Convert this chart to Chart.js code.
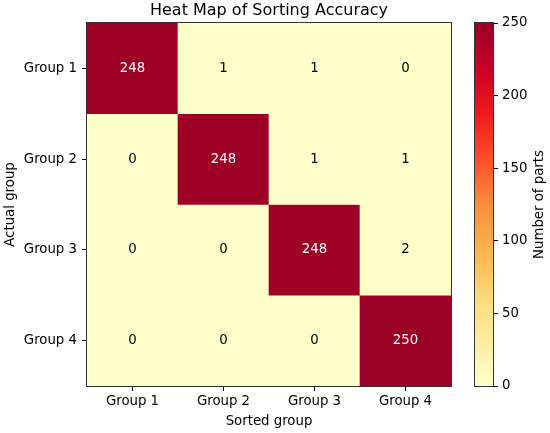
<!DOCTYPE html>
<html>
<head>
<meta charset="utf-8">
<script src="https://cdn.jsdelivr.net/npm/chart.js@4.4.1/dist/chart.umd.min.js"></script>
<style>
  html, body { margin: 0; padding: 0; background: #fff; }
  #wrap { position: relative; width: 550px; height: 433px; }
  canvas { position: absolute; top: 0; }
  #main { left: 0; }
  #cbar { left: 451px; }
</style>
</head>
<body>
<div id="wrap">
  <canvas id="main" width="550" height="433"></canvas>
  <canvas id="cbar" width="99" height="433"></canvas>
</div>
<script>
// ---- Data ----
const sortedGroups = ['Group 1', 'Group 2', 'Group 3', 'Group 4'];
const actualGroups = ['Group 1', 'Group 2', 'Group 3', 'Group 4'];
const row1 = [248, 1, 1, 0];
const row2 = [0, 248, 1, 1];
const row3 = [0, 0, 248, 2];
const row4 = [0, 0, 0, 250];
const rows = [row1, row2, row3, row4];
const colorbarTicks = [0, 50, 100, 150, 200, 250];
const vmin = 0, vmax = 250;

// ---- Colormap (YlOrRd) ----
const cmapStops = [
  [0.000, [255, 255, 204]],
  [0.125, [255, 237, 160]],
  [0.250, [254, 217, 118]],
  [0.375, [254, 178, 76]],
  [0.500, [253, 141, 60]],
  [0.625, [252, 78, 42]],
  [0.750, [240, 26, 28]],
  [0.875, [200, 0, 38]],
  [1.000, [155, 0, 38]]
];
function cmap(v) {
  let t = (v - vmin) / (vmax - vmin);
  t = Math.max(0, Math.min(1, t));
  for (let i = 1; i < cmapStops.length; i++) {
    const [t1, c1] = cmapStops[i];
    const [t0, c0] = cmapStops[i - 1];
    if (t <= t1) {
      const f = (t - t0) / (t1 - t0);
      const c = c0.map((a, k) => Math.round(a + (c1[k] - a) * f));
      return `rgb(${c[0]},${c[1]},${c[2]})`;
    }
  }
  const c = cmapStops[cmapStops.length - 1][1];
  return `rgb(${c[0]},${c[1]},${c[2]})`;
}

const FONT = 'DejaVu Sans';
const TICK_SIZE = 13.3;
const frameColor = '#333333';

const datasets = rows.map((r, i) => ({
  label: actualGroups[i],
  data: r.map(() => [i, i + 1]),
  backgroundColor: r.map(v => cmap(v)),
  borderWidth: 0,
  barPercentage: 1,
  categoryPercentage: 1,
  grouped: false
}));

const cellText = {
  id: 'cellText',
  afterDatasetsDraw(chart) {
    const ctx = chart.ctx;
    ctx.save();
    ctx.font = `${TICK_SIZE}px "${FONT}"`;
    ctx.textAlign = 'center';
    ctx.textBaseline = 'middle';
    chart.data.datasets.forEach((ds, i) => {
      const meta = chart.getDatasetMeta(i);
      meta.data.forEach((el, j) => {
        const v = rows[i][j];
        ctx.fillStyle = v > 125 ? '#ffffff' : '#000000';
        ctx.fillText(String(v), el.x, (el.y + el.base) / 2);
      });
    });
    ctx.restore();
  }
};

const frame = {
  id: 'frame',
  afterDatasetsDraw(chart) {
    const a = chart.chartArea;
    const ctx = chart.ctx;
    ctx.save();
    ctx.strokeStyle = frameColor;
    ctx.lineWidth = 1;
    ctx.strokeRect(Math.round(a.left) - 0.5, Math.round(a.top) - 0.5,
      Math.round(a.right - a.left) + 1, Math.round(a.bottom - a.top) + 1);
    ctx.restore();
  }
};

new Chart(document.getElementById('main'), {
  type: 'bar',
  data: { labels: sortedGroups, datasets },
  options: {
    responsive: false,
    animation: false,
    devicePixelRatio: 1,
    layout: { padding: { left: 0, right: 99, top: 0, bottom: 0 } },
    plugins: {
      legend: { display: false },
      tooltip: { enabled: false },
      title: {
        display: true,
        text: 'Heat Map of Sorting Accuracy',
        fullSize: false,
        color: '#000',
        font: { family: FONT, size: 16, weight: 'normal' },
        padding: { top: 1, bottom: 2.8 }
      }
    },
    scales: {
      x: {
        type: 'category',
        grid: { display: true, offset: false, drawOnChartArea: false, drawTicks: true, tickLength: 5, color: '#000' },
        border: { display: false },
        ticks: { color: '#000', font: { family: FONT, size: TICK_SIZE }, padding: 3, maxRotation: 0 },
        title: { display: true, text: 'Sorted group', color: '#000', font: { family: FONT, size: TICK_SIZE }, padding: { top: 2, bottom: 3 } },
        afterFit(axis) { axis.height = 47; }
      },
      y: {
        type: 'linear',
        min: 0, max: 4, reverse: true,
        afterBuildTicks(axis) { axis.ticks = [0.5, 1.5, 2.5, 3.5].map(v => ({ value: v })); },
        grid: { display: true, drawOnChartArea: false, drawTicks: true, tickLength: 5, color: '#000' },
        border: { display: false },
        ticks: {
          color: '#000', font: { family: FONT, size: TICK_SIZE }, padding: 5,
          callback: (v) => actualGroups[Math.floor(v)]
        },
        title: { display: true, text: 'Actual group', color: '#000', font: { family: FONT, size: TICK_SIZE }, padding: { top: 3, bottom: 2 } },
        afterFit(axis) { axis.width = 87; }
      }
    }
  },
  plugins: [cellText, frame]
});

const cbarTitle = {
  id: 'cbarTitle',
  afterDraw(chart) {
    const ctx = chart.ctx;
    const a = chart.chartArea;
    ctx.save();
    ctx.font = `${TICK_SIZE}px "${FONT}"`;
    ctx.fillStyle = '#000';
    ctx.textAlign = 'center';
    ctx.textBaseline = 'middle';
    ctx.translate(89, (a.top + a.bottom) / 2);
    ctx.rotate(-Math.PI / 2);
    ctx.fillText('Number of parts', 0, 0);
    ctx.restore();
  }
};

new Chart(document.getElementById('cbar'), {
  type: 'bar',
  data: {
    labels: [''],
    datasets: [{
      data: [[vmin, vmax]],
      backgroundColor(context) {
        const chart = context.chart;
        const a = chart.chartArea;
        if (!a) return 'rgba(0,0,0,0)';
        const g = chart.ctx.createLinearGradient(0, a.bottom, 0, a.top);
        cmapStops.forEach(([t, c]) => g.addColorStop(t, `rgb(${c[0]},${c[1]},${c[2]})`));
        return g;
      },
      borderWidth: 0,
      barPercentage: 1,
      categoryPercentage: 1
    }]
  },
  options: {
    responsive: false,
    animation: false,
    devicePixelRatio: 1,
    layout: { padding: { left: 24, right: 0, top: 23, bottom: 47 } },
    plugins: { legend: { display: false }, tooltip: { enabled: false }, title: { display: false } },
    scales: {
      x: { display: false },
      y: {
        position: 'right',
        min: vmin, max: vmax,
        afterBuildTicks(axis) { axis.ticks = colorbarTicks.map(v => ({ value: v })); },
        grid: { display: true, drawOnChartArea: false, drawTicks: true, tickLength: 5, color: '#000' },
        border: { display: false },
        ticks: { color: '#000', font: { family: FONT, size: TICK_SIZE }, padding: 4 },
        afterFit(axis) { axis.width = 57; }
      }
    }
  },
  plugins: [frame, cbarTitle]
});
</script>
</body>
</html>
